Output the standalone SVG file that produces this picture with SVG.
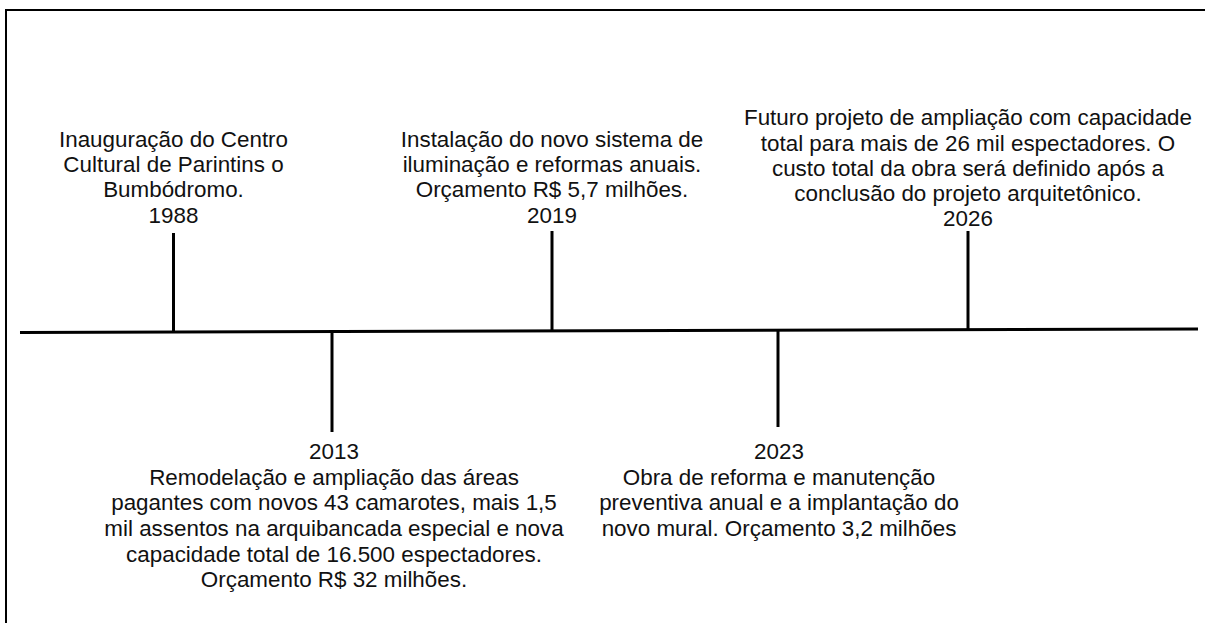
<svg xmlns="http://www.w3.org/2000/svg" width="1205" height="623" viewBox="0 0 1205 623">
<style>
.t{font-family:"Liberation Sans",Arial,sans-serif;font-size:22.4px;fill:#111;text-anchor:middle}
.ln{stroke:#000;stroke-width:3;fill:none}
</style>
<rect x="0" y="0" width="1205" height="623" fill="#fff"/>
<path d="M6,623 V10 H1205" fill="none" stroke="#000" stroke-width="2"/>
<g id="connectors">
<line class="ln" x1="20" y1="332.5" x2="1198" y2="329"/>
<line class="ln" x1="173.5" y1="233" x2="173.5" y2="332"/>
<line class="ln" x1="332" y1="333" x2="332" y2="432"/>
<line class="ln" x1="552" y1="231" x2="552" y2="331"/>
<line class="ln" x1="778" y1="330" x2="778" y2="427"/>
<line class="ln" x1="968" y1="231" x2="968" y2="330"/>
</g>
<g id="n1988">
<text class="t" x="173.5" y="147">Inauguração do Centro</text>
<text class="t" x="173.5" y="172">Cultural de Parintins o</text>
<text class="t" x="173.5" y="197">Bumbódromo.</text>
<text class="t" x="173.5" y="222.5">1988</text>
</g>
<g id="n2019">
<text class="t" x="552" y="147">Instalação do novo sistema de</text>
<text class="t" x="552" y="172">iluminação e reformas anuais.</text>
<text class="t" x="552" y="197">Orçamento R$ 5,7 milhões.</text>
<text class="t" x="552" y="222.5">2019</text>
</g>
<g id="n2026">
<text class="t" x="968" y="125">Futuro projeto de ampliação com capacidade</text>
<text class="t" x="968" y="150.5">total para mais de 26 mil espectadores. O</text>
<text class="t" x="968" y="176">custo total da obra será definido após a</text>
<text class="t" x="968" y="201">conclusão do projeto arquitetônico.</text>
<text class="t" x="968" y="226">2026</text>
</g>
<g id="n2013">
<text class="t" x="334" y="459">2013</text>
<text class="t" x="334" y="484.5">Remodelação e ampliação das áreas</text>
<text class="t" x="334" y="510">pagantes com novos 43 camarotes, mais 1,5</text>
<text class="t" x="334" y="536">mil assentos na arquibancada especial e nova</text>
<text class="t" x="334" y="562">capacidade total de 16.500 espectadores.</text>
<text class="t" x="334" y="587">Orçamento R$ 32 milhões.</text>
</g>
<g id="n2023">
<text class="t" x="779" y="459">2023</text>
<text class="t" x="779" y="484.5">Obra de reforma e manutenção</text>
<text class="t" x="779" y="510">preventiva anual e a implantação do</text>
<text class="t" x="779" y="536">novo mural. Orçamento 3,2 milhões</text>
</g>
</svg>
